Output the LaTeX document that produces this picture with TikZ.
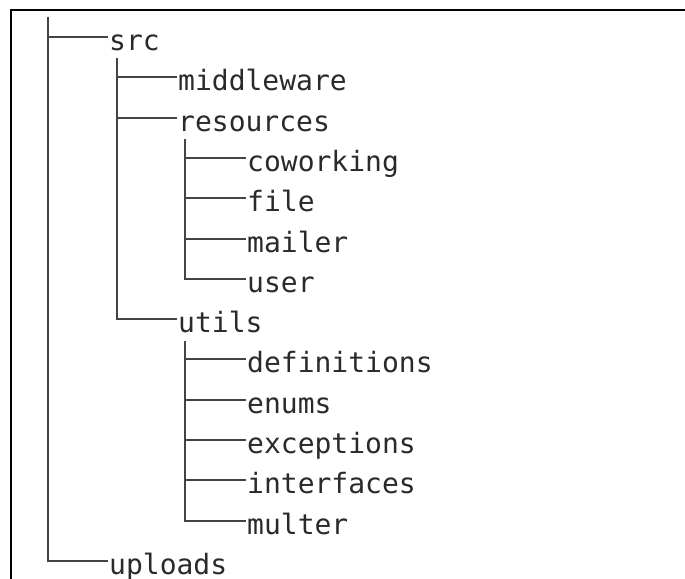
\documentclass[tikz,border=0pt]{standalone}
\usepackage{fontspec}
\setmonofont{DejaVu Sans Mono}
\definecolor{txt}{HTML}{2A2A2A}
\definecolor{ln}{HTML}{444444}
\begin{document}
\begin{tikzpicture}[x=1bp,y=-1bp,
  lbl/.style={anchor=base west, inner sep=0pt, font=\ttfamily\fontsize{28bp}{30bp}\selectfont, text=txt},
  tree/.style={draw=ln, line width=2bp},
  frame/.style={draw=black, line width=2bp}]
\useasboundingbox (0,0) rectangle (685,579);
% frame
\coordinate (fa) at (11,580);
\coordinate (fb) at (11,10);
\coordinate (fc) at (686,10);
\draw[frame] (fa) -- (fb) -- (fc);
% labels (baseline = branch line + 13.5)
\node[lbl] (src)         at (109, 50.5)  {src};
\node[lbl] (middleware)  at (178, 90.5)  {middleware};
\node[lbl] (resources)   at (178, 131.5) {resources};
\node[lbl] (coworking)   at (247, 171.5) {coworking};
\node[lbl] (file)        at (247, 211.5) {file};
\node[lbl] (mailer)      at (247, 252.5) {mailer};
\node[lbl] (user)        at (247, 292.5) {user};
\node[lbl] (utils)       at (178, 332.5) {utils};
\node[lbl] (definitions) at (247, 372.5) {definitions};
\node[lbl] (enums)       at (247, 413.5) {enums};
\node[lbl] (exceptions)  at (247, 453.5) {exceptions};
\node[lbl] (interfaces)  at (247, 493.5) {interfaces};
\node[lbl] (multer)      at (247, 534.5) {multer};
\node[lbl] (uploads)     at (109, 574.5) {uploads};
% tops of the vertical lines
\coordinate (t0) at (48,17);
\coordinate (t1) at (117,58);
\coordinate (t2) at (185,139);
\coordinate (t3) at (185,341);
\tikzset{br/.style={xshift=-1bp,yshift=13.5bp}}
% level 0
\draw[tree] (t0) |- ([br]src.base west);
\draw[tree] (t0) |- ([br]uploads.base west);
% level 1
\draw[tree] (t1) |- ([br]middleware.base west);
\draw[tree] (t1) |- ([br]resources.base west);
\draw[tree] (t1) |- ([br]utils.base west);
% resources
\draw[tree] (t2) |- ([br]coworking.base west);
\draw[tree] (t2) |- ([br]file.base west);
\draw[tree] (t2) |- ([br]mailer.base west);
\draw[tree] (t2) |- ([br]user.base west);
% utils
\draw[tree] (t3) |- ([br]definitions.base west);
\draw[tree] (t3) |- ([br]enums.base west);
\draw[tree] (t3) |- ([br]exceptions.base west);
\draw[tree] (t3) |- ([br]interfaces.base west);
\draw[tree] (t3) |- ([br]multer.base west);
\end{tikzpicture}
\end{document}
